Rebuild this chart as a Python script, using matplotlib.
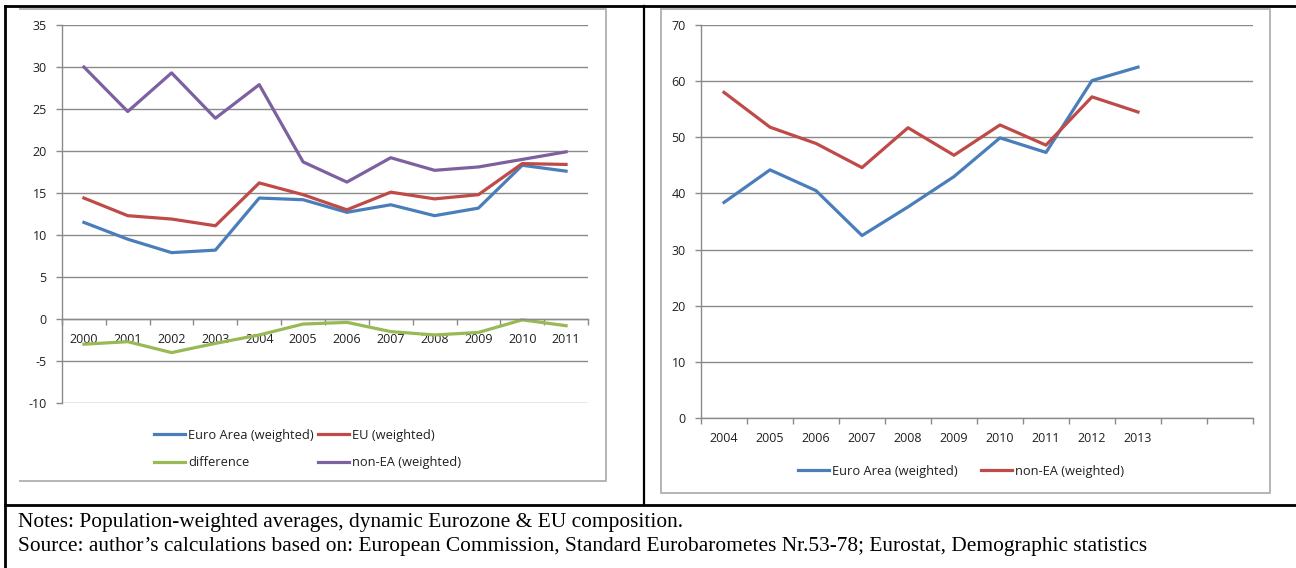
import matplotlib.pyplot as plt
from matplotlib.lines import Line2D

# Left panel: 2000-2011
years_left = ['2000', '2001', '2002', '2003', '2004', '2005',
              '2006', '2007', '2008', '2009', '2010', '2011']
euro_area_left = [11.5, 9.5, 7.9, 8.2, 14.4, 14.2, 12.7, 13.6, 12.3, 13.2, 18.3, 17.6]
eu_left = [14.4, 12.3, 11.9, 11.1, 16.2, 14.8, 13.0, 15.1, 14.3, 14.8, 18.5, 18.4]
difference = [-3.0, -2.7, -4.0, -2.9, -1.9, -0.6, -0.4, -1.5, -1.9, -1.6, -0.1, -0.8]
non_ea_left = [30.0, 24.7, 29.3, 23.9, 27.9, 18.7, 16.3, 19.2, 17.7, 18.1, 19.0, 19.9]

# Right panel: 2004-2013 (two empty slots at the end of the axis)
years_right = ['2004', '2005', '2006', '2007', '2008', '2009',
               '2010', '2011', '2012', '2013', '', '']
euro_area_right = [38.4, 44.2, 40.5, 32.5, 37.6, 43.0, 49.9, 47.3, 60.1, 62.5]
non_ea_right = [58.0, 51.8, 48.9, 44.6, 51.7, 46.8, 52.2, 48.6, 57.2, 54.5]

BLUE = '#4a7ebb'
RED = '#be4b48'
GREEN = '#98b954'
PURPLE = '#7d60a0'
GRID = '#8a8a8a'
FRAME = '#b4b4b4'
TXT = '#202020'

W, H = 1296, 568
plt.rcParams['font.family'] = ['Open Sans', 'DejaVu Sans']
plt.rcParams['axes.unicode_minus'] = False
fig = plt.figure(figsize=(W / 100, H / 100), dpi=100)


def box(x0, y0, x1, y1):
    # pixel box (top-left origin) -> figure fraction rect
    return [x0 / W, 1 - y1 / H, (x1 - x0) / W, (y1 - y0) / H]


def fx(x):
    return x / W


def fy(y):
    return 1 - y / H


def style_axes(ax, ncat, ymin, ymax, ystep, labels):
    ax.set_xlim(-0.5, ncat - 0.5)
    ax.set_ylim(ymin, ymax)
    ax.set_yticks(range(ymin, ymax + 1, ystep))
    ax.set_xticks(range(ncat))
    ax.set_xticklabels(labels)
    ax.set_xticks([i - 0.5 for i in range(ncat + 1)], minor=True)
    ax.tick_params(axis='x', which='major', length=0, pad=10,
                   labelsize=9, labelcolor=TXT)
    ax.tick_params(axis='x', which='minor', length=4, width=1,
                   color=GRID, direction='out')
    ax.tick_params(axis='y', length=4, width=1, color=GRID, pad=7,
                   labelsize=9, labelcolor=TXT)
    ax.yaxis.grid(True, color=GRID, lw=1)
    ax.set_axisbelow(True)
    for s in ['top', 'right']:
        ax.spines[s].set_visible(False)
    ax.spines['left'].set_color(GRID)
    ax.spines['bottom'].set_color(GRID)
    ax.spines['left'].set_linewidth(1)
    ax.spines['bottom'].set_linewidth(1)


# ---- left chart
ax1 = fig.add_axes(box(62, 25, 588, 403))
x_left = range(len(years_left))
lw = 2.3
l_ea, = ax1.plot(x_left, euro_area_left, color=BLUE, lw=lw, label='Euro Area (weighted)')
l_eu, = ax1.plot(x_left, eu_left, color=RED, lw=lw, label='EU (weighted)')
l_df, = ax1.plot(x_left, difference, color=GREEN, lw=lw, label='difference')
l_ne, = ax1.plot(x_left, non_ea_left, color=PURPLE, lw=lw, label='non-EA (weighted)')
style_axes(ax1, len(years_left), -10, 35, 5, years_left)
ax1.spines['bottom'].set_position(('data', 0))

# column-major fill: pass handles so rows read EA/EU, difference/non-EA
leg1 = ax1.legend(handles=[l_ea, l_df, l_eu, l_ne], ncol=2, frameon=False,
                  loc='upper left', bbox_to_anchor=(fx(142), fy(417)),
                  bbox_transform=fig.transFigure, fontsize=9.3,
                  handlelength=2.4, handletextpad=0.25, columnspacing=0.35,
                  labelspacing=1.15, labelcolor=TXT)

# ---- right chart
ax2 = fig.add_axes(box(701, 25, 1253, 418))
x_right = range(len(euro_area_right))
r_ea, = ax2.plot(x_right, euro_area_right, color=BLUE, lw=lw, label='Euro Area (weighted)')
r_ne, = ax2.plot(x_right, non_ea_right, color=RED, lw=lw, label='non-EA (weighted)')
style_axes(ax2, len(years_right), 0, 70, 10, years_right)

leg2 = ax2.legend(handles=[r_ea, r_ne], ncol=2, frameon=False,
                  loc='upper left', bbox_to_anchor=(fx(786), fy(453)),
                  bbox_transform=fig.transFigure, fontsize=9.3,
                  handlelength=2.4, handletextpad=0.25, columnspacing=1.8,
                  labelcolor=TXT)

# ---- chart frames (light grey)
def fig_line(xs, ys, color, width):
    fig.add_artist(Line2D([fx(x) for x in xs], [fy(y) for y in ys],
                          color=color, lw=width, transform=fig.transFigure))


fig_line([20, 606, 606, 20], [9, 9, 481, 481], FRAME, 1.4)
fig_line([661, 1270, 1270, 661, 661], [9, 9, 493, 493, 9], FRAME, 1.4)

# ---- table rules (black)
fig_line([5, W], [6, 6], 'black', 2.0)
fig_line([5, 5], [6, H], 'black', 2.0)
fig_line([644, 644], [6, 505], 'black', 1.6)
fig_line([5, W], [505, 505], 'black', 2.0)

# ---- notes
fig.text(fx(18), fy(522), 'Notes: Population-weighted averages, dynamic Eurozone & EU composition.',
         family='Liberation Serif', fontsize=15.4, va='center', ha='left', color='black')
fig.text(fx(18), fy(547), 'Source: author\u2019s calculations based on: European Commission, '
         'Standard Eurobarometes Nr.53-78; Eurostat, Demographic statistics',
         family='Liberation Serif', fontsize=15.4, va='center', ha='left', color='black')

fig.savefig('out.png', dpi=100)
